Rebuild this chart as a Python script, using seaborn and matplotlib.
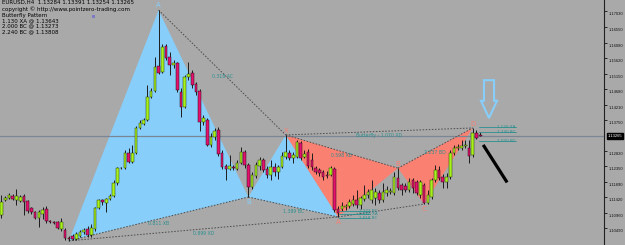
import numpy as np
import pandas as pd
import matplotlib
matplotlib.use("Agg")
import matplotlib.pyplot as plt
import matplotlib.transforms as mtransforms
from matplotlib.patches import Polygon
import seaborn as sns

# ---------------- data (EURUSD H4) ----------------
opens = [1.1089, 1.1134, 1.1140, 1.1146, 1.1134, 1.1131, 1.1146, 1.1131, 1.1110, 1.1098,
         1.1080, 1.1092, 1.1107, 1.1071, 1.1068, 1.1068, 1.1047, 1.1044, 1.1020, 1.1026,
         1.1017, 1.1026, 1.1038, 1.1047, 1.1029, 1.1047, 1.1110, 1.1134, 1.1125, 1.1137,
         1.1146, 1.1185, 1.1230, 1.1230, 1.1276, 1.1248, 1.1276, 1.1351, 1.1363, 1.1375,
         1.1444, 1.1462, 1.1538, 1.1520, 1.1598, 1.1565, 1.1541, 1.1547, 1.1459, 1.1414,
         1.1505, 1.1517, 1.1483, 1.1462, 1.1369, 1.1375, 1.1300, 1.1324, 1.1345, 1.1275,
         1.1236, 1.1227, 1.1233, 1.1227, 1.1245, 1.1279, 1.1239, 1.1173, 1.1206, 1.1236,
         1.1255, 1.1227, 1.1209, 1.1233, 1.1218, 1.1233, 1.1263, 1.1276, 1.1260, 1.1263,
         1.1306, 1.1263, 1.1279, 1.1255, 1.1230, 1.1224, 1.1218, 1.1209, 1.1209, 1.1227,
         1.1107, 1.1107, 1.1113, 1.1116, 1.1122, 1.1134, 1.1119, 1.1137, 1.1149, 1.1134,
         1.1140, 1.1155, 1.1134, 1.1155, 1.1158, 1.1155, 1.1200, 1.1179, 1.1176, 1.1164,
         1.1194, 1.1188, 1.1149, 1.1179, 1.1125, 1.1143, 1.1194, 1.1224, 1.1203, 1.1188,
         1.1203, 1.1276, 1.1291, 1.1291, 1.1297, 1.1291, 1.1269, 1.1336, 1.13284]
highs = [1.1149, 1.1146, 1.1155, 1.1152, 1.1167, 1.1149, 1.1152, 1.1134, 1.1113, 1.1101,
         1.1104, 1.1113, 1.1116, 1.1074, 1.1071, 1.1071, 1.1080, 1.1050, 1.1026, 1.1032,
         1.1038, 1.1044, 1.1050, 1.1056, 1.1062, 1.1113, 1.1137, 1.1137, 1.1140, 1.1152,
         1.1194, 1.1233, 1.1233, 1.1285, 1.1291, 1.1300, 1.1357, 1.1375, 1.1381, 1.1480,
         1.1471, 1.1565, 1.1706, 1.1604, 1.1604, 1.1580, 1.1556, 1.1550, 1.1471, 1.1510,
         1.1550, 1.1526, 1.1489, 1.1468, 1.1390, 1.1381, 1.1336, 1.1351, 1.1354, 1.1285,
         1.1242, 1.1269, 1.1239, 1.1255, 1.1294, 1.1285, 1.1245, 1.1218, 1.1248, 1.1263,
         1.1260, 1.1236, 1.1255, 1.1245, 1.1239, 1.1279, 1.1330, 1.1285, 1.1279, 1.1315,
         1.1312, 1.1285, 1.1288, 1.1276, 1.1236, 1.1230, 1.1224, 1.1221, 1.1236, 1.1233,
         1.1116, 1.1128, 1.1122, 1.1137, 1.1149, 1.1164, 1.1146, 1.1179, 1.1167, 1.1194,
         1.1170, 1.1164, 1.1185, 1.1176, 1.1170, 1.1218, 1.1230, 1.1185, 1.1185, 1.1200,
         1.1200, 1.1194, 1.1194, 1.1185, 1.1164, 1.1200, 1.1239, 1.1236, 1.1212, 1.1215,
         1.1285, 1.1300, 1.1303, 1.1315, 1.1315, 1.1315, 1.1351, 1.1345, 1.13391]
lows = [1.1080, 1.1131, 1.1137, 1.1134, 1.1119, 1.1128, 1.1089, 1.1095, 1.1092, 1.1077,
        1.1053, 1.1077, 1.1065, 1.1065, 1.1062, 1.1047, 1.1041, 1.1014, 1.1011, 1.1014,
        1.1014, 1.1023, 1.1032, 1.1023, 1.1023, 1.1041, 1.1107, 1.1119, 1.1098, 1.1134,
        1.1143, 1.1179, 1.1227, 1.1227, 1.1245, 1.1245, 1.1273, 1.1348, 1.1360, 1.1372,
        1.1441, 1.1459, 1.1514, 1.1517, 1.1556, 1.1510, 1.1532, 1.1459, 1.1384, 1.1411,
        1.1495, 1.1471, 1.1450, 1.1342, 1.1360, 1.1297, 1.1294, 1.1315, 1.1266, 1.1227,
        1.1194, 1.1224, 1.1224, 1.1224, 1.1242, 1.1230, 1.1143, 1.1167, 1.1200, 1.1224,
        1.1218, 1.1200, 1.1194, 1.1206, 1.1197, 1.1230, 1.1257, 1.1255, 1.1245, 1.1260,
        1.1255, 1.1260, 1.1230, 1.1224, 1.1212, 1.1206, 1.1194, 1.1200, 1.1206, 1.1098,
        1.1083, 1.1101, 1.1104, 1.1110, 1.1116, 1.1110, 1.1107, 1.1131, 1.1140, 1.1125,
        1.1119, 1.1125, 1.1128, 1.1146, 1.1152, 1.1149, 1.1164, 1.1149, 1.1158, 1.1158,
        1.1155, 1.1149, 1.1140, 1.1122, 1.1122, 1.1137, 1.1188, 1.1194, 1.1170, 1.1170,
        1.1197, 1.1270, 1.1285, 1.1285, 1.1291, 1.1245, 1.1263, 1.1318, 1.13254]
closes = [1.1128, 1.1140, 1.1149, 1.1137, 1.1146, 1.1143, 1.1128, 1.1101, 1.1098, 1.1080,
          1.1098, 1.1104, 1.1071, 1.1068, 1.1065, 1.1050, 1.1068, 1.1020, 1.1017, 1.1017,
          1.1032, 1.1038, 1.1044, 1.1029, 1.1050, 1.1110, 1.1134, 1.1128, 1.1137, 1.1146,
          1.1185, 1.1230, 1.1231, 1.1276, 1.1248, 1.1276, 1.1351, 1.1366, 1.1375, 1.1444,
          1.1462, 1.1535, 1.1517, 1.1595, 1.1562, 1.1541, 1.1547, 1.1465, 1.1414, 1.1505,
          1.1513, 1.1480, 1.1459, 1.1369, 1.1381, 1.1300, 1.1324, 1.1342, 1.1272, 1.1233,
          1.1227, 1.1236, 1.1230, 1.1245, 1.1279, 1.1239, 1.1173, 1.1209, 1.1239, 1.1255,
          1.1224, 1.1209, 1.1233, 1.1218, 1.1233, 1.1266, 1.1279, 1.1260, 1.1269, 1.1309,
          1.1260, 1.1272, 1.1236, 1.1233, 1.1218, 1.1215, 1.1203, 1.1206, 1.1230, 1.1104,
          1.1095, 1.1116, 1.1116, 1.1128, 1.1134, 1.1119, 1.1140, 1.1149, 1.1158, 1.1164,
          1.1158, 1.1134, 1.1158, 1.1164, 1.1161, 1.1203, 1.1170, 1.1164, 1.1164, 1.1188,
          1.1170, 1.1155, 1.1188, 1.1125, 1.1149, 1.1194, 1.1224, 1.1200, 1.1188, 1.1203,
          1.1276, 1.1291, 1.1294, 1.1297, 1.1300, 1.1266, 1.1336, 1.1321, 1.13265]

# harmonic pattern pivots (bar index, price)  X, A, B, C, D
blue_idx = [18, 42, 66, 76, 90]
blue_px = [1.1011, 1.1706, 1.1143, 1.1330, 1.1083]
red_idx = [76, 90, 106, 113, 126]
red_px = [1.1330, 1.1083, 1.1230, 1.1122, 1.1351]
red_names = ["X", "A", "B", "C", "D"]

blue_ratio_labels = {"XB": "0.811 XB", "AC": "0.318 AC", "BD": "1.389 BC", "XD": "0.899 XD"}
red_ratio_labels = {"XB": "0.598 XB", "BD": "2.237 BD", "XD": "Butterfly - 1.070 XD"}

tick_vals = [1.17030, 1.16550, 1.16080, 1.15620, 1.15150, 1.14680, 1.14210, 1.13750,
             1.12820, 1.12350, 1.11890, 1.11420, 1.10960, 1.10490]
tick_labels = ["1.17030", "1.16550", "1.16080", "1.15620", "1.15150", "1.14680", "1.14210",
               "1.13750", "1.12820", "1.12350", "1.11890", "1.11420", "1.10960", "1.10490"]
last_price = 1.13265

header = ["EURUSD,H4  1.13284 1.13391 1.13254 1.13265",
          "copyright \u00a9 http://www.pointzero-trading.com",
          "Butterfly Pattern",
          "1.130 XA @ 1.13643",
          "2.000 BC @ 1.13273",
          "2.240 BC @ 1.13808"]

# level lines near D and near A of the red pattern
d_levels = [1.1354, 1.1339, 1.1312]
d_level_labels = ["1.130 XA", "2.240 BC", "2.000 BC"]
a_levels = [1.1101, 1.1092, 1.1080]
a_level_labels = ["1.272 BC", "0.886 XA", "1.618 BC"]

# ---------------- style ----------------
BG = "#a9a9a9"
BLUE = "#87cefa"
SALMON = "#fa8072"
BULL = "#a8f21c"
BEAR = "#e3126e"
TEAL = "#2b8f8f"

sns.set_style("white")
plt.rcParams["font.family"] = ["DejaVu Sans"]

W, H = 625, 245
fig = plt.figure(figsize=(W / 100, H / 100), dpi=100, facecolor=BG)
ax = fig.add_axes([0, 0, 604 / W, 1])
ax.set_facecolor(BG)

df = pd.DataFrame({"i": np.arange(len(opens)), "o": opens, "h": highs, "l": lows, "c": closes})

# pattern triangles
def tri(ix, px, a, b, c, color):
    ax.fill([ix[a], ix[b], ix[c]], [px[a], px[b], px[c]], color=color, lw=0, zorder=1)

tri(blue_idx, blue_px, 0, 1, 2, BLUE)
tri(blue_idx, blue_px, 2, 3, 4, BLUE)
tri(red_idx, red_px, 0, 1, 2, SALMON)
tri(red_idx, red_px, 2, 3, 4, SALMON)

# last price line
ax.axhline(last_price, color="#7a8696", lw=0.9, zorder=2)

# dotted ratio lines (seaborn)
pairs = {"XB": (0, 2), "AC": (1, 3), "BD": (2, 4), "XD": (0, 4)}
rows = []
for name, (p, q) in pairs.items():
    rows += [("b" + name, blue_idx[p], blue_px[p]), ("b" + name, blue_idx[q], blue_px[q])]
    rows += [("r" + name, red_idx[p], red_px[p]), ("r" + name, red_idx[q], red_px[q])]
seg = pd.DataFrame(rows, columns=["seg", "x", "y"])
sns.lineplot(data=seg, x="x", y="y", units="seg", estimator=None, color="#4d4d4d",
             lw=0.7, linestyle=(0, (1.6, 1.6)), ax=ax, legend=False, zorder=2.5, sort=False)

for labels, ix, px in [(blue_ratio_labels, blue_idx, blue_px), (red_ratio_labels, red_idx, red_px)]:
    for name, txt in labels.items():
        p, q = pairs[name]
        mx = (ix[p] + ix[q]) / 2
        my = (px[p] + px[q]) / 2
        ax.annotate(txt, (mx, my), xytext=(0, -3.2), textcoords="offset points",
                    ha="center", va="center", fontsize=3.3, color=TEAL, zorder=6)

# level lines
for lv, lab in zip(d_levels, d_level_labels):
    ax.plot([127.8, 137.5], [lv, lv], color=TEAL, lw=0.6, zorder=5)
    ax.text(132.5, lv, lab, fontsize=3.0, color=TEAL, va="center", ha="left", zorder=6)
for lv, lab in zip(a_levels, a_level_labels):
    ax.plot([90.2, 98.5], [lv, lv], color=TEAL, lw=0.6, zorder=5)
    ax.text(95.5, lv, lab, fontsize=3.0, color=TEAL, va="center", ha="left", zorder=6)

# candles
ax.vlines(df["i"], df["l"], df["h"], color="#1c1c1c", lw=0.7, zorder=3)
bull = df["c"] >= df["o"]
height = (df["c"] - df["o"]).abs().clip(lower=0.00009)
bottom = df[["o", "c"]].min(axis=1)
ax.bar(df["i"][bull], height[bull], bottom=bottom[bull], width=0.7, color=BULL,
       edgecolor="#2c3a05", lw=0.35, zorder=4)
ax.bar(df["i"][~bull], height[~bull], bottom=bottom[~bull], width=0.7, color=BEAR,
       edgecolor="#2a0a14", lw=0.35, zorder=4)

# pivot labels
for k, (x, y) in enumerate(zip(blue_idx, blue_px)):
    if k in (1, 2):
        up = k == 1
        ax.annotate(["X", "A", "B", "C", "D"][k], (x, y), xytext=(0, 1.2 if up else -1.2),
                    textcoords="offset points", ha="center", va="bottom" if up else "top",
                    fontsize=5, color=BLUE, zorder=7)
for k, (x, y) in enumerate(zip(red_idx, red_px)):
    up = k in (0, 2, 4)
    ax.annotate(red_names[k], (x, y), xytext=(0, 0.8 if up else -1.2),
                textcoords="offset points", ha="center", va="bottom" if up else "top",
                fontsize=5, color=SALMON, zorder=7)

# hollow down arrow and black projection line
ci = 130.35
arrow = Polygon([(ci - 1.35, 1.1495), (ci + 1.35, 1.1495), (ci + 1.35, 1.1433), (ci + 2.15, 1.1433),
                 (ci, 1.1381), (ci - 2.15, 1.1433), (ci - 1.35, 1.1433)],
                closed=True, fill=False, edgecolor=BLUE, lw=1.5, zorder=8)
ax.add_patch(arrow)
ax.plot([128.8, 135.2], [1.1300, 1.1187], color="black", lw=2.3, solid_capstyle="butt", zorder=8)

# small marker near header
ax.plot([24.5], [1.1688], marker="s", ms=1.2, color="#7a78c8", zorder=8)

# axes
ax.set_xlim(-0.4, 161.1)
ax.set_ylim(1.09985, 1.17364)
ax.set_xticks([])
ax.set_xlabel("")
ax.set_ylabel("")
for s in ["top", "left", "bottom"]:
    ax.spines[s].set_visible(False)
ax.spines["right"].set_color("#202020")
ax.spines["right"].set_linewidth(0.8)
ax.yaxis.tick_right()
ax.set_yticks(tick_vals)
ax.set_yticklabels(tick_labels, fontfamily="Liberation Sans")
ax.tick_params(axis="y", direction="out", length=2.5, width=0.6, colors="#111111",
               labelsize=3.0, pad=1.0)
off = mtransforms.ScaledTranslation(0, -2.5 / 100, fig.dpi_scale_trans)
for lab in ax.get_yticklabels():
    lab.set_transform(lab.get_transform() + off)

# last price box
trans = mtransforms.blended_transform_factory(ax.transAxes, ax.transData)
ax.text(1.006, last_price, "1.13265", transform=trans, fontsize=3.0, color="white",
        fontfamily="Liberation Sans", va="center", ha="left", zorder=9, clip_on=False,
        bbox=dict(boxstyle="square,pad=0.2", fc="black", ec="black"))

# header text
for k, line in enumerate(header):
    ypx = [2.5, 9, 15, 20.7, 26.3, 32][k]
    fig.text(2 / W, 1 - ypx / H, line, fontsize=4.0, color="black", va="center", ha="left")

fig.savefig("out.png", dpi=100, facecolor=BG)
